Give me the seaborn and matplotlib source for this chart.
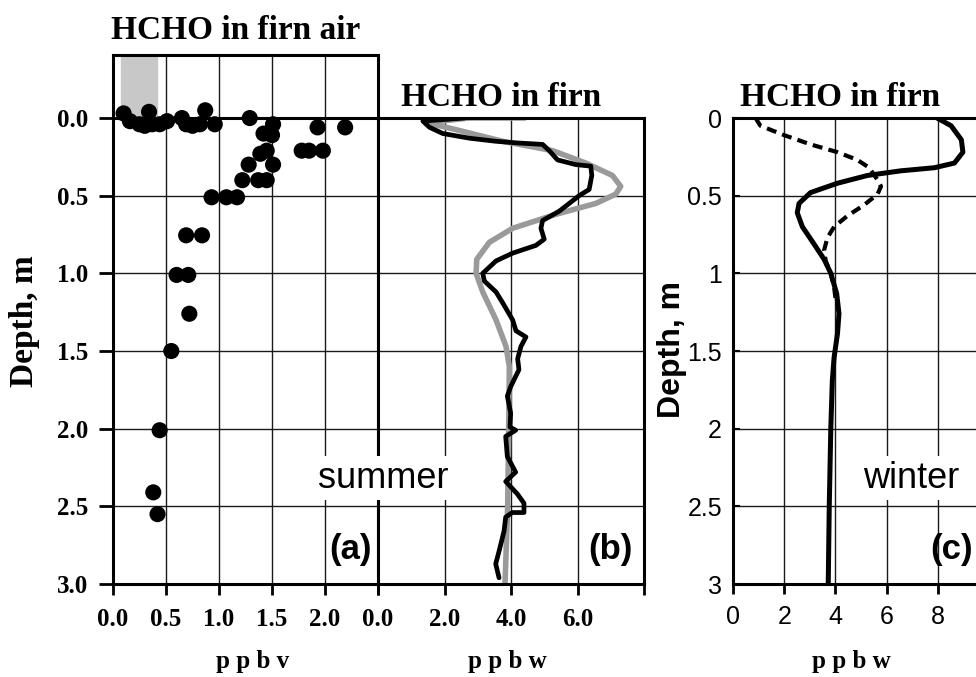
import matplotlib
matplotlib.use("Agg")
import matplotlib.pyplot as plt
import seaborn as sns
import pandas as pd

# (a) HCHO in firn air
air_ppbv = [0.10, 0.16, 0.34, 0.37, 0.25, 0.30, 0.44, 0.51, 0.65, 0.69, 0.75, 0.82, 0.87, 0.96,
            1.29, 1.51, 1.42, 1.50, 1.45, 1.39, 1.28, 1.51, 1.22, 1.37, 1.45, 0.93, 1.07, 1.17,
            1.93, 2.19, 1.78, 1.85, 1.98, 0.69, 0.84, 0.60, 0.71, 0.72, 0.55, 0.44, 0.38, 0.42]
air_depth = [-0.03, 0.02, -0.04, 0.04, 0.04, 0.05, 0.04, 0.02, 0.00, 0.04, 0.05, 0.04, -0.05, 0.04,
             0.00, 0.04, 0.10, 0.11, 0.21, 0.23, 0.30, 0.30, 0.40, 0.40, 0.40, 0.51, 0.51, 0.51,
             0.06, 0.06, 0.21, 0.21, 0.21, 0.755, 0.755, 1.01, 1.01, 1.26, 1.50, 2.01, 2.41, 2.55]
band_left, band_right = 0.075, 0.415

# (b) summer: measured (black) and model (grey)
summer_obs_ppbw = [2.60, 1.35, 1.55, 1.95, 2.75, 3.55, 4.15, 4.95, 5.15, 5.40, 5.95, 6.40, 6.43, 6.35,
                   6.05, 5.75, 5.45, 4.95, 4.90, 5.00, 4.75, 4.05, 3.55, 3.15, 3.20, 3.55, 3.75, 4.05,
                   4.15, 4.45, 4.30, 4.20, 4.24, 3.99, 3.89, 3.99, 3.97, 4.14, 3.84, 3.89, 4.14, 3.84,
                   4.19, 4.39, 4.39, 4.04, 3.84, 3.79, 3.64, 3.54, 3.64]
summer_obs_depth = [0.00, 0.02, 0.06, 0.10, 0.13, 0.15, 0.16, 0.17, 0.21, 0.27, 0.30, 0.31, 0.37, 0.46,
                    0.50, 0.55, 0.60, 0.66, 0.71, 0.78, 0.82, 0.87, 0.92, 1.00, 1.05, 1.12, 1.19, 1.30,
                    1.37, 1.41, 1.47, 1.55, 1.62, 1.73, 1.79, 1.90, 1.99, 2.01, 2.05, 2.18, 2.28, 2.34,
                    2.42, 2.48, 2.54, 2.54, 2.57, 2.66, 2.79, 2.87, 2.96]
summer_model_ppbw = [4.45, 2.75, 1.45, 2.25, 3.75, 5.25, 6.25, 7.05, 7.30, 7.15, 6.55, 5.35, 4.05,
                     3.35, 2.97, 2.95, 3.15, 3.55, 3.85, 3.95, 3.93, 3.90, 3.82]
summer_model_depth = [0.00, 0.00, 0.03, 0.07, 0.15, 0.21, 0.29, 0.37, 0.44, 0.49, 0.55, 0.62, 0.71,
                      0.80, 0.91, 1.00, 1.12, 1.30, 1.47, 1.60, 2.00, 2.50, 3.00]

# (c) winter profiles
winter_solid_ppbw = [7.97, 8.52, 8.92, 8.98, 8.65, 7.87, 6.56, 5.25, 4.08, 3.03, 2.58, 2.51, 2.71,
                     3.16, 3.56, 3.82, 4.05, 4.14, 4.08, 3.95, 3.88, 3.82, 3.76, 3.72]
winter_solid_depth = [0.00, 0.05, 0.14, 0.22, 0.29, 0.32, 0.34, 0.37, 0.42, 0.48, 0.55, 0.61, 0.70,
                      0.81, 0.91, 1.00, 1.13, 1.26, 1.39, 1.54, 1.69, 2.00, 2.50, 3.00]
winter_dash_ppbw = [0.88, 1.07, 1.99, 3.03, 4.08, 4.86, 5.32, 5.65, 5.78, 5.65, 5.12, 4.47, 3.95,
                    3.69, 3.56, 3.62, 3.82, 3.95, 4.01]
winter_dash_depth = [0.00, 0.05, 0.11, 0.17, 0.22, 0.27, 0.32, 0.40, 0.44, 0.49, 0.56, 0.63, 0.70,
                     0.77, 0.85, 0.92, 1.00, 1.09, 1.17]

depth_ticks = [0, 0.5, 1.0, 1.5, 2.0, 2.5, 3.0]
air_xticks = [0, 0.5, 1.0, 1.5, 2.0, 2.5]
air_xlabels = ["0.0", "0.5", "1.0", "1.5", "2.0", ""]
firn_xticks = [0, 2, 4, 6, 8]
summer_xlabels = ["0.0", "2.0", "4.0", "6.0", ""]
winter_xticks = [0, 2, 4, 6, 8]
winter_ylabels = ["0", "0.5", "1", "1.5", "2", "2.5", "3"]

air = pd.DataFrame({"ppbv": air_ppbv, "depth": air_depth})
s_obs = pd.DataFrame({"ppbw": summer_obs_ppbw, "depth": summer_obs_depth})
s_mod = pd.DataFrame({"ppbw": summer_model_ppbw, "depth": summer_model_depth})
w_sol = pd.DataFrame({"ppbw": winter_solid_ppbw, "depth": winter_solid_depth})
w_dash = pd.DataFrame({"ppbw": winter_dash_ppbw, "depth": winter_dash_depth})

sns.set_style("ticks")
SERIF = ["Liberation Serif", "DejaVu Serif"]
SANS = ["Liberation Sans", "DejaVu Sans"]
plt.rcParams["font.family"] = SERIF
plt.rcParams.update({"text.color": "black", "axes.labelcolor": "black",
                     "xtick.color": "black", "ytick.color": "black"})

W, H = 976, 677
fig = plt.figure(figsize=(W / 100, H / 100), dpi=100)


def box(l, t, r, b):
    return [l / W, 1 - b / H, (r - l) / W, (b - t) / H]


def frame(ax):
    for s in ax.spines.values():
        s.set_linewidth(2.2)
        s.set_color("black")
    ax.grid(True, color="#1a1a1a", linewidth=1.0)
    ax.set_xlabel("")
    ax.set_ylabel("")


# ---- panel a
ax_a = fig.add_axes(box(113, 55, 378, 584))
top = -0.406
ax_a.fill_betweenx([top, 0], band_left, band_right, color="#c8c8c8", zorder=1)
sns.scatterplot(data=air, x="ppbv", y="depth", ax=ax_a, color="black", s=135,
                edgecolor="none", zorder=3, clip_on=False)
ax_a.axhline(0, color="black", lw=2.2, zorder=2)
ax_a.set_xlim(0, 2.5)
ax_a.set_ylim(3.0, top)
ax_a.set_xticks(air_xticks)
ax_a.set_xticklabels(air_xlabels, fontweight="bold", fontsize=18)
ax_a.set_yticks(depth_ticks)
ax_a.set_yticklabels([f"{d:.1f}" for d in depth_ticks], fontweight="bold", fontsize=18)
ax_a.tick_params(axis="x", direction="out", length=8, width=2, pad=9)
ax_a.tick_params(axis="y", direction="out", length=10, width=2, pad=8)
frame(ax_a)

# ---- panel b
ax_b = fig.add_axes(box(378, 118, 644, 584))
sns.lineplot(data=s_mod, x="ppbw", y="depth", ax=ax_b, sort=False, estimator=None,
             color="#9a9a9a", lw=4, solid_capstyle="butt")
sns.lineplot(data=s_obs, x="ppbw", y="depth", ax=ax_b, sort=False, estimator=None,
             color="black", lw=3.4, solid_joinstyle="round")
ax_b.set_xlim(0, 8)
ax_b.set_ylim(3.0, 0)
ax_b.set_xticks(firn_xticks)
ax_b.set_xticklabels(summer_xlabels, fontweight="bold", fontsize=18)
ax_b.set_yticks(depth_ticks)
ax_b.set_yticklabels([])
ax_b.tick_params(axis="x", direction="out", length=8, width=2, pad=9)
ax_b.tick_params(axis="y", length=0)
frame(ax_b)

# ---- panel c
ax_c = fig.add_axes(box(733, 118, 989, 584))
sns.lineplot(data=w_dash, x="ppbw", y="depth", ax=ax_c, sort=False, estimator=None,
             color="black", lw=3.0, linestyle=(0, (2.4, 1.5)))
sns.lineplot(data=w_sol, x="ppbw", y="depth", ax=ax_c, sort=False, estimator=None,
             color="black", lw=3.6)
ax_c.set_xlim(0, 10)
ax_c.set_ylim(3.0, 0)
ax_c.set_xticks(winter_xticks)
ax_c.set_xticklabels([str(v) for v in winter_xticks], family=SANS, fontsize=18)
ax_c.set_yticks(depth_ticks)
ax_c.set_yticklabels(winter_ylabels, family=SANS, fontsize=18)
ax_c.tick_params(axis="x", direction="out", length=7, width=2, pad=8)
ax_c.tick_params(axis="y", direction="in", length=5, width=1.5, pad=8)
frame(ax_c)


# ---- texts
def px(x, y):
    return x / W, 1 - y / H


fig.text(*px(236, 39), "HCHO in firn air", ha="center", va="baseline",
         fontsize=24, fontweight="bold")
fig.text(*px(501, 106), "HCHO in firn", ha="center", va="baseline",
         fontsize=24, fontweight="bold")
fig.text(*px(840, 106), "HCHO in firn", ha="center", va="baseline",
         fontsize=24, fontweight="bold")

fig.text(*px(25, 321), "Depth, m", rotation=90, ha="center", va="center",
         fontsize=24, fontweight="bold")
fig.text(*px(672, 350), "Depth, m", rotation=90, ha="center", va="center",
         fontsize=23, fontweight="bold", family=SANS)

fig.text(*px(253, 668), "p p b v", ha="center", va="baseline", fontsize=18, fontweight="bold")
fig.text(*px(507, 668), "p p b w", ha="center", va="baseline", fontsize=18, fontweight="bold")
fig.text(*px(851, 668), "p p b w", ha="center", va="baseline", fontsize=18, fontweight="bold")

white = dict(facecolor="white", edgecolor="none", pad=3)
fig.text(*px(383, 478), "summer", ha="center", va="center", fontsize=26,
         family=SANS, bbox=white)
fig.text(*px(911, 478), "winter", ha="center", va="center", fontsize=26,
         family=SANS, bbox=white)

fig.text(*px(372, 550), "(a)", ha="right", va="center", fontsize=25,
         fontweight="bold", family=SANS)
fig.text(*px(633, 550), "(b)", ha="right", va="center", fontsize=25,
         fontweight="bold", family=SANS)
fig.text(*px(973, 550), "(c)", ha="right", va="center", fontsize=25,
         fontweight="bold", family=SANS)

fig.savefig("out.png", dpi=100)
